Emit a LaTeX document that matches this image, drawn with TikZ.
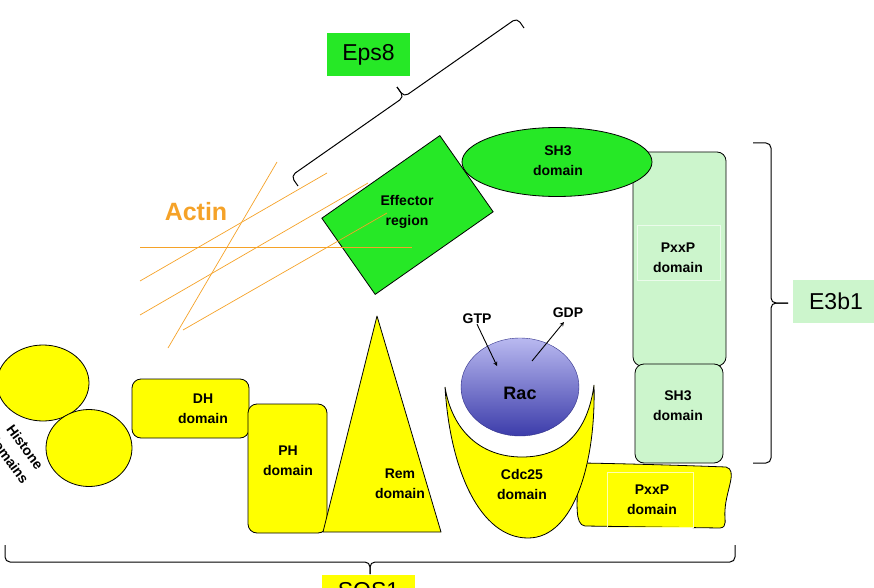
\documentclass[tikz,border=0pt]{standalone}
\usepackage{fontspec}
\setmainfont{Liberation Sans}
\usetikzlibrary{shapes.geometric}

\definecolor{sosyellow}{RGB}{255,255,0}
\definecolor{epsgreen}{RGB}{38,232,38}
\definecolor{palegreen}{RGB}{204,245,204}
\definecolor{actinorange}{RGB}{245,162,40}
\definecolor{racblue}{RGB}{60,60,170}
\definecolor{raclight}{RGB}{185,185,240}

\begin{document}
\begin{tikzpicture}
[x=1pt,y=-1pt,%
  outline/.style={draw=black,line width=0.8pt},%
  domainbox/.style={outline,rounded corners=9pt,inner sep=0pt},%
  yellowbox/.style={domainbox,fill=sosyellow},%
  palebox/.style={domainbox,fill=palegreen},%
  oval/.style={outline,shape=ellipse,inner sep=0pt},%
  domaintext/.style={align=center,inner sep=0pt,font=\bfseries\fontsize{14}{20}\selectfont},%
  tagbox/.style={inner sep=0pt,minimum height=43pt,font=\fontsize{23}{26}\selectfont},%
  bracket/.style={draw=black,line width=1pt,rounded corners=5pt},%
  actin/.style={draw=actinorange,line width=0.7pt}]
\useasboundingbox (0,0) rectangle (874,588);
%% E3b1
\node[palebox,minimum width=93pt,minimum height=214pt] (pxxpup) at (679.5,259) {};
\draw[palegreen!40!white,line width=0.4pt] (637,225) rectangle (720,280);
\node[domaintext] at (678,258) {PxxP\\domain};
\node[palebox,minimum width=88pt,minimum height=99pt] (sh3low) at (679,413.5) {};
\node[domaintext] at (678,406) {SH3\\domain};
%% Eps8
\node[oval,fill=epsgreen,minimum width=190pt,minimum height=69pt] (sh3up) at (557,162) {};
\node[domaintext] at (558,161) {SH3\\domain};
\node[outline,fill=epsgreen,rotate=35,minimum width=144pt,minimum height=93pt,inner sep=0pt] (effector) at (407.5,215) {};
\node[domaintext] at (407,212) {Effector\\region};
%% actin
\draw[actin] (277,162) -- (168,348);
\draw[actin] (327,173) -- (140,281);
\draw[actin] (368,183) -- (140,315);
\draw[actin] (387,213) -- (183,330);
\draw[actin] (140,247) -- (412,247);
\node[text=actinorange,font=\bfseries\fontsize{25}{28}\selectfont,inner sep=0pt] (actin) at (196,212) {Actin};
%% SOS1
\node[yellowbox,minimum width=117pt,minimum height=59pt] (dh) at (190.5,408.5) {};
\node[domaintext] at (203,409) {DH\\domain};
\node[oval,fill=sosyellow,minimum width=92pt,minimum height=76pt] (histA) at (43,383) {};
\node[oval,fill=sosyellow,minimum width=86pt,minimum height=77pt] (histB) at (89,448) {};
\node[domaintext,rotate=-54] at (17,453) {Histone\\domains};
\node[yellowbox,minimum width=79pt,minimum height=129pt] (ph) at (287.5,468.5) {};
\node[domaintext] at (288,461) {PH\\domain};
\draw[outline,fill=sosyellow,line join=round] (377,316) -- (441,532) -- (323,532) -- cycle;
\node[domaintext] at (400,484) {Rem\\domain};
\draw[outline,fill=sosyellow]
  (583,463) .. controls (640,464) and (700,466) .. (726,467)
  .. controls (738,470) and (726,490) .. (725,510)
  .. controls (724,520) and (728,527) .. (720,528)
  -- (585,526) .. controls (574,525) and (578,500) .. (577,490)
  .. controls (576,478) and (582,470) .. (583,463) -- cycle;
\draw[draw=white!70!sosyellow,line width=0.5pt] (607,472) rectangle (693,527);
\node[domaintext] at (652,500) {PxxP\\domain};
\draw[outline,fill=sosyellow]
  (445,387) .. controls (450,470) and (480,538) .. (528,538)
  .. controls (575,538) and (596,460) .. (594,385)
  .. controls (588,430) and (565,457) .. (522,457)
  .. controls (480,457) and (452,430) .. (445,387) -- cycle;
\node[domaintext] at (522,484) {Cdc25\\domain};
\node[shape=ellipse,draw=racblue!80!black,line width=0.4pt,top color=raclight,bottom color=racblue,
  minimum width=118pt,minimum height=98pt,inner sep=0pt] (rac) at (520,387) {};
\node[font=\bfseries\fontsize{18}{20}\selectfont,inner sep=0pt] at (520,393) {Rac};
\node[domaintext] (gtp) at (477,319) {GTP};
\node[domaintext] (gdp) at (568,313) {GDP};
\coordinate (racin) at (497,366);
\coordinate (racout) at (532,361);
\coordinate (gdpend) at (564,322);
\draw[->,>=stealth,line width=0.9pt] (gtp.south) -- (racin);
\draw[->,>=stealth,line width=0.9pt] (racout) -- (gdpend);
%% brackets and tags
\draw[bracket] (298,186) -- (291,176) -- (404,97) -- (397,87);
\draw[bracket] (397,87) -- (404,97) -- (517,18) -- (524,28);
\node[tagbox,fill=epsgreen,minimum width=83pt] (eps8) at (368.5,54.5) {Eps8};
\draw[bracket] (753,143) -- (771,143) -- (771,303) -- (788,303);
\draw[bracket] (788,303) -- (771,303) -- (771,463) -- (753,463);
\node[tagbox,fill=palegreen,minimum width=86pt] (e3b1) at (836,301.5) {E3b1};
\draw[bracket] (5,545) -- (5,562) -- (370,562) -- (370,574);
\draw[bracket] (370,574) -- (370,562) -- (735,562) -- (735,545);
\node[tagbox,fill=sosyellow,minimum width=93pt] (sos1) at (368.5,596.5) {};
\node[font=\fontsize{23}{26}\selectfont,inner sep=0pt] at (368.5,591) {SOS1};
\end{tikzpicture}
\end{document}
